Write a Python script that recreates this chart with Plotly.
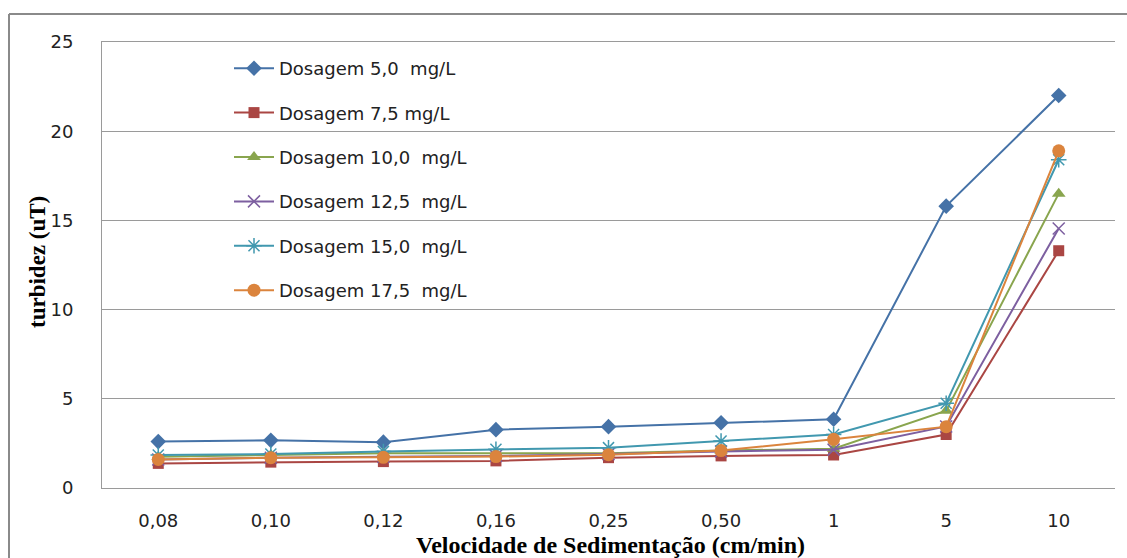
import plotly.graph_objects as go

# Sedimentation velocity categories (cm/min)
velocidades = ["0,08", "0,10", "0,12", "0,16", "0,25", "0,50", "1", "5", "10"]

# Residual turbidity (uT) for each coagulant dosage
dos_5_0 = [2.6, 2.67, 2.57, 3.27, 3.44, 3.66, 3.85, 15.8, 22.0]
dos_7_5 = [1.38, 1.45, 1.48, 1.52, 1.7, 1.8, 1.85, 3.0, 13.3]
dos_10_0 = [1.75, 1.85, 1.95, 1.95, 1.95, 2.1, 2.2, 4.33, 16.5]
dos_12_5 = [1.6, 1.7, 1.75, 1.8, 1.9, 2.05, 2.15, 3.45, 14.55]
dos_15_0 = [1.85, 1.9, 2.05, 2.17, 2.26, 2.63, 3.0, 4.75, 18.4]
dos_17_5 = [1.6, 1.7, 1.72, 1.76, 1.87, 2.1, 2.73, 3.44, 18.9]

nomes = [
    "Dosagem 5,0\u00a0 mg/L",
    "Dosagem 7,5 mg/L",
    "Dosagem 10,0\u00a0 mg/L",
    "Dosagem 12,5\u00a0 mg/L",
    "Dosagem 15,0\u00a0 mg/L",
    "Dosagem 17,5\u00a0 mg/L",
]
series = [dos_5_0, dos_7_5, dos_10_0, dos_12_5, dos_15_0, dos_17_5]
cores = ["#4572A7", "#AA4643", "#89A54E", "#7D5FA0", "#4198AF", "#DB843D"]
simbolos = ["diamond", "square", "triangle-up", "x-thin-open", "asterisk-open", "circle"]
tamanhos = [12, 11, 12, 12, 13, 13]

fig = go.Figure()
for i, (nome, valores, cor, simb, tam) in enumerate(zip(nomes, series, cores, simbolos, tamanhos)):
    fig.add_trace(go.Scatter(
        x=velocidades,
        y=valores,
        name=nome,
        legendgroup=f"g{i}",
        mode="lines+markers",
        line=dict(color=cor, width=2),
        marker=dict(symbol=simb, size=tam, color=cor,
                    line=dict(color=cor, width=1.5 if "open" in simb else 0)),
    ))

W, H = 1127, 558
L, R, T, B = 102, 12, 42, 70
pw, ph = W - L - R, H - T - B


def px_x(p):
    return (p - L) / pw


def px_y(p):
    return (H - B - p) / ph


grid = "#9a9a9a"
fonte_eixo = dict(family="DejaVu Sans", size=18, color="#222222")

fig.update_layout(
    width=W,
    height=H,
    margin=dict(l=L, r=R, t=T, b=B),
    paper_bgcolor="white",
    plot_bgcolor="white",
    showlegend=True,
    legend=dict(
        x=px_x(229), y=px_y(50), xanchor="left", yanchor="top",
        bgcolor="rgba(0,0,0,0)",
        font=dict(family="DejaVu Sans", size=18, color="#222222"),
        tracegroupgap=18,
        itemwidth=40,
    ),
    xaxis=dict(
        type="category",
        range=[-0.5, 8.5],
        automargin=False,
        showgrid=False,
        showline=True,
        mirror=True,
        linecolor=grid,
        linewidth=1,
        zeroline=False,
        ticks="",
        tickfont=fonte_eixo,
        ticklabelstandoff=16,
    ),
    yaxis=dict(
        range=[0, 25],
        dtick=5,
        automargin=False,
        showgrid=True,
        gridcolor=grid,
        gridwidth=1,
        zeroline=False,
        showline=True,
        linecolor=grid,
        linewidth=1,
        ticks="",
        tickfont=fonte_eixo,
        ticklabelstandoff=24,
    ),
    annotations=[
        dict(text="Velocidade de Sedimentação (cm/min)", xref="paper", yref="paper",
             x=px_x(610), y=px_y(545), xanchor="center", yanchor="middle", showarrow=False,
             font=dict(family="Liberation Serif", size=24, color="#000000", weight="bold")),
        dict(text="turbidez (uT)", xref="paper", yref="paper", textangle=-90,
             x=px_x(37), y=px_y(262), xanchor="center", yanchor="middle", showarrow=False,
             font=dict(family="Liberation Serif", size=23, color="#000000", weight="bold")),
    ],
    shapes=[
        # white panel behind the legend, hiding the gridlines there
        dict(type="rect", xref="paper", yref="paper",
             x0=px_x(120), x1=px_x(593), y0=px_y(313), y1=px_y(44),
             fillcolor="white", line=dict(width=0), layer="between"),
        # chart frame (top and left edges)
        dict(type="line", xref="paper", yref="paper",
             x0=px_x(9), x1=px_x(1130), y0=px_y(14), y1=px_y(14),
             line=dict(color="#8a8a8a", width=2)),
        dict(type="line", xref="paper", yref="paper",
             x0=px_x(9), x1=px_x(9), y0=px_y(14), y1=px_y(560),
             line=dict(color="#8a8a8a", width=2)),
    ],
)

fig.write_html("out.html")
